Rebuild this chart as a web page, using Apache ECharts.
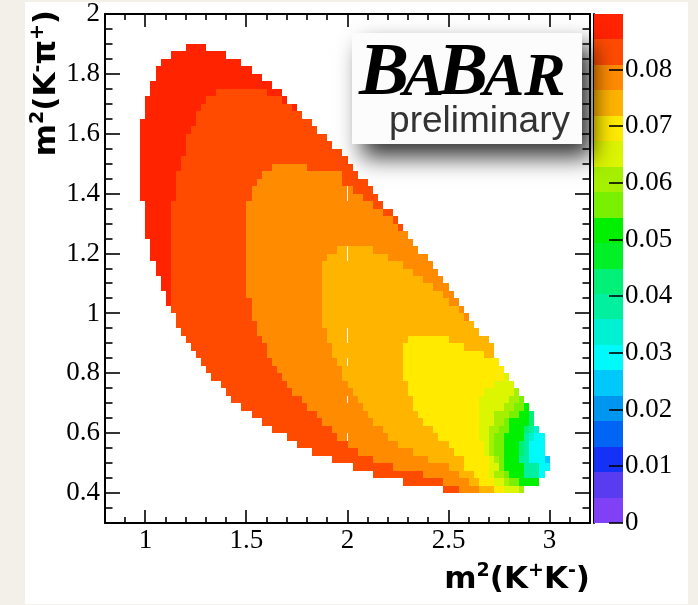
<!DOCTYPE html>
<html>
<head>
<meta charset="utf-8">
<script src="https://cdn.jsdelivr.net/npm/echarts@6/dist/echarts.min.js"></script>
<style>
  html, body { margin: 0; padding: 0; background: #f3f0ea; }
  #chart { width: 698px; height: 605px; }
</style>
</head>
<body>
<div id="chart"></div>
<script>
// Efficiency map binning (GeV^2/c^4) in both Dalitz variables
const binWidth = 0.025;
// Lower m^2(K-pi+) edge of the first (bottom) row
const firstRowY = 0.4;

// Contour band of every cell, row by row from the bottom (m^2(K-pi+) = 0.400) up.
// Each row: first m^2(K+K-) edge, then pairs of (band index, end edge).
const rowBands = [
  [2.475,18,2.55,17,2.65,16,2.725,15,2.775,14,2.85,13,2.875],
  [2.275,18,2.475,17,2.6,16,2.65,15,2.725,14,2.775,13,2.8,12,2.85,11,2.95],
  [2.125,18,2.375,17,2.55,16,2.625,15,2.7,14,2.725,13,2.775,12,2.8,11,2.875,8,2.95,6,2.975],
  [2.025,18,2.225,17,2.5,16,2.575,15,2.7,14,2.75,12,2.775,11,2.875,8,2.95,6,3.0],
  [1.925,18,2.125,17,2.4,16,2.575,15,2.7,14,2.725,13,2.75,12,2.775,11,2.85,8,2.9,6,2.975,5,3.0],
  [1.825,18,2.05,17,2.325,16,2.525,15,2.675,14,2.7,13,2.725,12,2.775,11,2.85,9,2.875,8,2.9,6,2.975],
  [1.75,18,2.0,17,2.25,16,2.5,15,2.675,14,2.7,13,2.725,12,2.775,11,2.85,9,2.875,8,2.9,6,2.975],
  [1.7,18,1.95,17,2.2,16,2.45,15,2.65,14,2.7,13,2.725,12,2.775,11,2.875,8,2.9,7,2.925,6,2.975],
  [1.625,18,1.925,17,2.175,16,2.425,15,2.65,14,2.7,13,2.75,12,2.8,11,2.875,9,2.9,8,2.925,7,2.95],
  [1.575,18,1.875,17,2.125,16,2.375,15,2.65,14,2.725,13,2.775,12,2.8,11,2.9,9,2.925],
  [1.525,18,1.85,17,2.1,16,2.35,15,2.65,14,2.725,13,2.8,12,2.85,11,2.9,9,2.925],
  [1.475,18,1.8,17,2.075,16,2.325,15,2.65,14,2.775,13,2.825,12,2.875,11,2.9],
  [1.425,18,1.775,17,2.05,16,2.325,15,2.65,14,2.8,13,2.85,12,2.875],
  [1.4,18,1.725,17,2.025,16,2.3,15,2.675,14,2.825,13,2.85],
  [1.375,18,1.7,17,2.0,16,2.3,15,2.725,14,2.825],
  [1.325,18,1.675,17,1.975,16,2.275,15,2.775,14,2.8],
  [1.3,18,1.65,17,1.975,16,2.275,15,2.775],
  [1.275,18,1.625,17,1.95,16,2.275,15,2.75],
  [1.25,18,1.6,17,1.925,16,2.275,15,2.675,16,2.725],
  [1.225,18,1.6,17,1.925,16,2.275,15,2.575,16,2.725],
  [1.2,18,1.575,17,1.9,16,2.3,15,2.5,16,2.7],
  [1.175,18,1.55,17,1.9,16,2.65],
  [1.15,18,1.55,17,1.875,16,2.625],
  [1.15,18,1.525,17,1.875,16,2.575,17,2.6],
  [1.125,18,1.525,17,1.875,16,2.55,17,2.575],
  [1.1,19,1.125,18,1.525,17,1.875,16,2.5,17,2.55],
  [1.1,19,1.125,18,1.5,17,1.875,16,2.475,17,2.525],
  [1.075,19,1.125,18,1.5,17,1.875,16,2.425,17,2.5],
  [1.075,19,1.125,18,1.5,17,1.875,16,2.375,17,2.475],
  [1.05,19,1.125,18,1.5,17,1.875,16,2.325,17,2.45],
  [1.05,19,1.125,18,1.5,17,1.875,16,2.275,17,2.425],
  [1.025,19,1.125,18,1.5,17,1.9,16,2.2,17,2.4],
  [1.025,19,1.125,18,1.5,17,1.95,16,2.125,17,2.35],
  [1.025,19,1.125,18,1.5,17,2.325],
  [1.0,19,1.125,18,1.5,17,2.3],
  [1.0,19,1.125,18,1.5,17,2.25,18,2.275],
  [1.0,19,1.125,18,1.5,17,2.225,18,2.25],
  [1.0,19,1.125,18,1.5,17,2.175,18,2.225],
  [1.0,19,1.125,18,1.5,17,2.125,18,2.175],
  [0.975,19,1.15,18,1.525,17,2.075,18,2.15],
  [0.975,19,1.15,18,1.525,17,2.025,18,2.125],
  [0.975,19,1.15,18,1.55,17,1.975,18,2.1],
  [0.975,19,1.15,18,1.575,17,1.975,18,2.05],
  [0.975,19,1.175,18,1.625,17,1.8,18,2.025],
  [0.975,19,1.175,18,2.0],
  [0.975,19,1.2,18,1.975],
  [0.975,19,1.2,18,1.925],
  [0.975,19,1.2,18,1.9],
  [0.975,19,1.225,18,1.85],
  [0.975,19,1.25,18,1.825],
  [1.0,19,1.25,18,1.775],
  [1.0,19,1.275,18,1.725,19,1.75],
  [1.0,19,1.3,18,1.675,19,1.7],
  [1.025,19,1.35,18,1.6,19,1.675],
  [1.025,19,1.625],
  [1.05,19,1.575],
  [1.05,19,1.525],
  [1.075,19,1.475],
  [1.125,19,1.4],
  [1.2,19,1.3]
];

// Colour-bar range and its 20 contour colours, lowest band first
const zMax = 0.0898;
const bandColors = [
  '#8040f5', '#5a3cf0', '#1432f5', '#0064f5', '#0096f0',
  '#00c8fa', '#00fafa', '#00f0d2', '#00f0a0', '#00f078',
  '#00f028', '#00f000', '#78f000', '#a5f000', '#dcf500',
  '#ffea00', '#ffb400', '#ff8c00', '#ff4b00', '#ff2300'
];

// Axis ranges and labelled ticks
const xRange = [0.8, 3.2];
const yRange = [0.3, 2.0];
const xMajorTicks = [1, 1.5, 2, 2.5, 3];
const yMajorTicks = [0.4, 0.6, 0.8, 1, 1.2, 1.4, 1.6, 1.8, 2];
const zTicks = [0, 0.01, 0.02, 0.03, 0.04, 0.05, 0.06, 0.07, 0.08];

const bandStep = zMax / bandColors.length;
const bandCentre = band => (band + 0.5) * bandStep;
const colourOf = v => bandColors[Math.min(bandColors.length - 1, Math.floor(v / bandStep))];

// Expand the row runs into individual map cells [x, y, efficiency]
const cells = [];
rowBands.forEach((row, r) => {
  const y = firstRowY + r * binWidth;
  let x0 = row[0];
  for (let i = 1; i < row.length; i += 2) {
    const band = row[i];
    const x1 = row[i + 1];
    const n = Math.round((x1 - x0) / binWidth);
    for (let k = 0; k < n; k++) cells.push([x0 + k * binWidth, y, bandCentre(band)]);
    x0 = x1;
  }
});

// Colour-bar bands [left, low, high]
const barBands = bandColors.map((c, i) => [0, i * bandStep, (i + 1) * bandStep]);

// Tick marks [position, length in px]: 0.1 / 0.05 steps, longer at labelled values
const xTickMarks = [];
for (let k = 8; k <= 32; k++) { const v = k / 10; xTickMarks.push([v, xMajorTicks.includes(v) ? 13 : 6]); }
const yTickMarks = [];
for (let k = 6; k <= 40; k++) { const v = k / 20; yTickMarks.push([v, yMajorTicks.includes(v) ? 15 : 7.5]); }
const zTickMarks = zTicks.map(v => [1, v, 14]);

const tickFont = { fontFamily: 'Liberation Serif', fontSize: 27, color: '#000' };
const frameLine = { show: true, lineStyle: { color: '#000', width: 2 } };

// pixel-snapped rectangle between two data corners
function snappedRect(a, b, colour) {
  const x0 = Math.round(a[0]), x1 = Math.round(b[0]);
  const y0 = Math.round(a[1]), y1 = Math.round(b[1]);
  return {
    type: 'rect',
    shape: { x: x0, y: y0, width: x1 - x0, height: y1 - y0 },
    style: { fill: colour }
  };
}

function tickLine(x1, y1, x2, y2) {
  return { type: 'line', shape: { x1: x1, y1: y1, x2: x2, y2: y2 }, style: { stroke: '#000', lineWidth: 1.6 } };
}

const supStyle = { font: 'bold 19px "DejaVu Sans"', fill: '#000', lineHeight: 21, verticalAlign: 'top' };
const titleStyle = { font: 'bold 31px "DejaVu Sans"', fill: '#000', lineHeight: 36 };

// page background, axis titles and the experiment label (label sits on the upper layer)
function labelGraphics() {
  return [
    { type: 'rect', z: -10, silent: true, shape: { x: 25, y: 2, width: 663, height: 602 }, style: { fill: '#ffffff' } },
    { type: 'text', z: 20, x: 590, y: 580,
      style: {
        text: '{m|m}{s|2}{m|(K}{s|+}{m|K}{s|-}{m|)}',
        align: 'right', verticalAlign: 'middle',
        rich: { m: titleStyle, s: supStyle }
      } },
    { type: 'text', z: 20, x: 47, y: 10, rotation: Math.PI / 2,
      style: {
        text: '{m|m}{s|2}{m|(K}{s|-}{m|π}{s|+}{m|)}',
        align: 'right', verticalAlign: 'middle',
        rich: { m: titleStyle, s: supStyle }
      } },
    { type: 'rect', zlevel: 1, z: 30, shape: { x: 352, y: 33, width: 230, height: 111 },
      style: { fill: '#fcfcfc', shadowBlur: 22, shadowOffsetX: 10, shadowOffsetY: 13, shadowColor: 'rgba(0,0,0,0.8)' } },
    { type: 'text', zlevel: 1, z: 31, x: 359, y: 112, style: { text: 'B', font: 'italic bold 75px "Liberation Serif"', fill: '#000', verticalAlign: 'bottom' } },
    { type: 'text', zlevel: 1, z: 31, x: 403, y: 110, style: { text: 'A', font: 'italic bold 62px "Liberation Serif"', fill: '#000', verticalAlign: 'bottom' } },
    { type: 'text', zlevel: 1, z: 31, x: 438, y: 112, style: { text: 'B', font: 'italic bold 75px "Liberation Serif"', fill: '#000', verticalAlign: 'bottom' } },
    { type: 'text', zlevel: 1, z: 31, x: 483, y: 110, style: { text: 'AR', font: 'italic bold 62px "Liberation Serif"', fill: '#000', verticalAlign: 'bottom' } },
    { type: 'text', zlevel: 1, z: 31, x: 570, y: 140, style: { text: 'preliminary', font: '37px "Liberation Sans"', fill: '#333333', align: 'right', verticalAlign: 'bottom' } }
  ];
}

const option = {
  backgroundColor: '#f3f0ea',
  animation: false,
  grid: [
    { left: 105, top: 14, width: 485, height: 509, outerBoundsMode: 'none' },
    { left: 594, top: 14, width: 29, height: 509, outerBoundsMode: 'none' }
  ],
  xAxis: [
    { type: 'value', gridIndex: 0, position: 'bottom', min: xRange[0], max: xRange[1], interval: 0.1,
      splitLine: { show: false }, axisLine: frameLine, axisTick: { show: false },
      axisLabel: Object.assign({ show: true, margin: 4, customValues: xMajorTicks }, tickFont) },
    { type: 'value', gridIndex: 0, position: 'top', min: xRange[0], max: xRange[1], interval: 0.1,
      splitLine: { show: false }, axisLine: frameLine, axisTick: { show: false }, axisLabel: { show: false } },
    { type: 'value', gridIndex: 1, min: 0, max: 1, show: false }
  ],
  yAxis: [
    { type: 'value', gridIndex: 0, position: 'left', min: yRange[0], max: yRange[1], interval: 0.05,
      splitLine: { show: false }, axisLine: frameLine, axisTick: { show: false },
      axisLabel: Object.assign({ show: true, margin: 5, customValues: yMajorTicks }, tickFont) },
    { type: 'value', gridIndex: 0, position: 'right', min: yRange[0], max: yRange[1], interval: 0.05,
      splitLine: { show: false }, axisLine: frameLine, axisTick: { show: false }, axisLabel: { show: false } },
    { type: 'value', gridIndex: 1, position: 'right', min: 0, max: zMax,
      splitLine: { show: false }, axisLine: frameLine, axisTick: { show: false },
      axisLabel: Object.assign({ show: true, margin: 2, customValues: zTicks }, tickFont) }
  ],
  series: [
    {
      type: 'custom', name: 'efficiency',
      xAxisIndex: 0, yAxisIndex: 0,
      dimensions: ['mKK', 'mKpi', 'eff'],
      encode: { x: 0, y: 1 },
      data: cells,
      progressive: 0,
      renderItem(params, api) {
        const x = api.value(0), y = api.value(1);
        return snappedRect(api.coord([x, y + binWidth]), api.coord([x + binWidth, y]), colourOf(api.value(2)));
      }
    },
    {
      type: 'custom', name: 'palette',
      xAxisIndex: 2, yAxisIndex: 2,
      encode: { x: 0, y: [1, 2] },
      data: barBands,
      renderItem(params, api) {
        return snappedRect(api.coord([0, api.value(2)]), api.coord([1, api.value(1)]), bandColors[params.dataIndex]);
      }
    },
    {
      // colour-bar ticks drawn over the bands from the right edge
      type: 'custom', name: 'zTicks',
      xAxisIndex: 2, yAxisIndex: 2,
      dimensions: ['x', 'eff', 'length'],
      encode: { x: 0, y: 1 },
      data: zTickMarks,
      renderItem(params, api) {
        const p = api.coord([api.value(0), api.value(1)]);
        const y = Math.round(p[1]);
        return tickLine(p[0], y, p[0] - api.value(2), y);
      }
    }
  ],
  graphic: labelGraphics()
};

const chart = echarts.init(document.getElementById('chart'), null, { renderer: 'canvas' });
chart.setOption(option);

// map a data point of the Dalitz plot to pixels through its axis scales
function mapPoint(pt) {
  const finders = [{ gridIndex: 0 }, { xAxisIndex: 0, yAxisIndex: 0 }, { seriesIndex: 0 }];
  for (const f of finders) {
    try {
      const p = chart.convertToPixel(f, pt);
      if (p && isFinite(p[0]) && isFinite(p[1])) return p;
    } catch (e) { /* next finder */ }
  }
  try {
    const model = chart.getModel();
    const xa = model.getComponent('xAxis', 0).axis;
    const ya = model.getComponent('yAxis', 0).axis;
    return [xa.toGlobalCoord(xa.dataToCoord(pt[0])), ya.toGlobalCoord(ya.dataToCoord(pt[1]))];
  } catch (e) {
    return null;
  }
}

// Inward ticks on all four frame edges, on the upper layer under the label box
function frameTick(x1, y1, x2, y2) {
  return { type: 'line', zlevel: 1, z: 15, silent: true,
    shape: { x1: x1, y1: y1, x2: x2, y2: y2 }, style: { stroke: '#000', lineWidth: 1.6 } };
}
const frameTicks = [];
xTickMarks.forEach(([v, len]) => {
  const b = mapPoint([v, yRange[0]]);
  const t = mapPoint([v, yRange[1]]);
  if (!b || !t) return;
  const x = Math.round(b[0]);
  frameTicks.push(frameTick(x, b[1], x, b[1] - len), frameTick(x, t[1], x, t[1] + len));
});
yTickMarks.forEach(([v, len]) => {
  const l = mapPoint([xRange[0], v]);
  const r = mapPoint([xRange[1], v]);
  if (!l || !r) return;
  const y = Math.round(l[1]);
  frameTicks.push(frameTick(l[0], y, l[0] + len, y), frameTick(r[0], y, r[0] - len, y));
});
if (frameTicks.length) chart.setOption({ graphic: labelGraphics().concat(frameTicks) });
</script>
</body>
</html>
